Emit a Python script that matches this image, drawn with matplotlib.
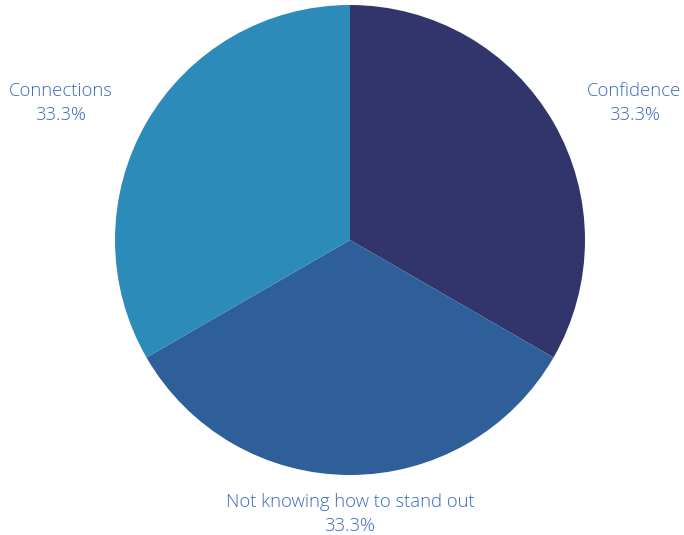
import numpy as np
import matplotlib
matplotlib.use("Agg")
import matplotlib.pyplot as plt

# data
labels = ["Confidence", "Not knowing how to stand out", "Connections"]
values = [33.3, 33.3, 33.3]
colors = ["#31356b", "#2e5f99", "#2d8bba"]

plt.rcParams['font.family'] = ['Open Sans', 'DejaVu Sans']
text_color = "#3769bf"

fig = plt.figure(figsize=(6.84, 5.35), dpi=100)
ax = fig.add_axes([0, 0, 1, 1])

R = 235.0   # pie radius in pixels
cx, cy = 350.0, 240.0  # centre in pixels from top-left
W, H = 684.0, 535.0

wedges, _ = ax.pie(values, colors=colors, startangle=90, counterclock=False,
                   radius=1.0, wedgeprops=dict(edgecolor='none', linewidth=0))

ax.set_xlim(-cx / R, (W - cx) / R)
ax.set_ylim(-(H - cy) / R, cy / R)
ax.set_aspect('equal')
ax.axis('off')

total = sum(values)
for w, lab, v in zip(wedges, labels, values):
    mid = np.deg2rad((w.theta1 + w.theta2) / 2)
    d = 1.165
    x, y = d * np.cos(mid), d * np.sin(mid)
    if abs(x) < 1e-6:
        ha = 'center'
    elif x > 0:
        ha = 'left'
    else:
        ha = 'right'
    ax.text(x, y, f"{lab}\n{v / total * 100:.1f}%", ha=ha, va='center',
            multialignment='center', color=text_color, fontsize=13.3,
            fontweight='light', linespacing=1.45)

fig.savefig("out.png", dpi=100, facecolor='white')
